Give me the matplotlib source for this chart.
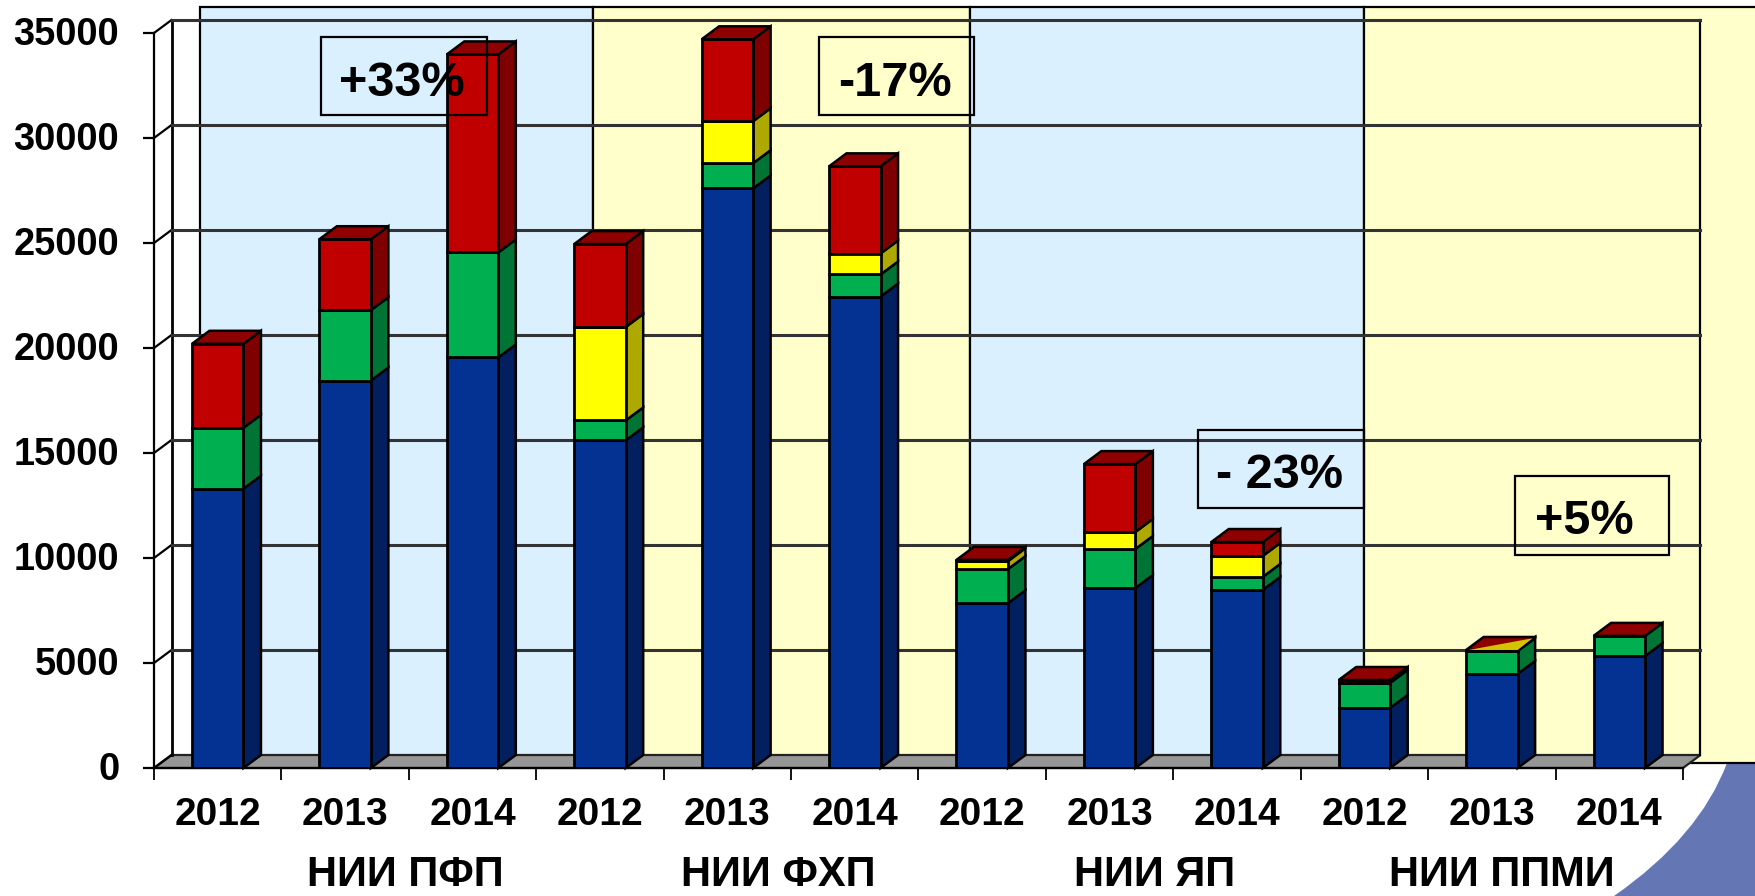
import matplotlib
matplotlib.use("Agg")
import matplotlib.pyplot as plt
from matplotlib.patches import Polygon, Rectangle, PathPatch
from matplotlib.path import Path
from matplotlib.transforms import ScaledTranslation

plt.rcParams['font.family'] = ['Liberation Sans', 'DejaVu Sans']

years = ['2012', '2013', '2014'] * 4
groups = ['НИИ ПФП', 'НИИ ФХП', 'НИИ ЯП', 'НИИ ППМИ']
blue = [13300, 18450, 19550, 15600, 27600, 22450, 7850, 8570, 8480, 2860, 4480, 5330]
green = [2900, 3350, 5000, 950, 1200, 1050, 1620, 1860, 620, 1190, 1090, 960]
yellow = [0, 0, 0, 4450, 2000, 1000, 380, 810, 1000, 0, 30, 0]
red = [4000, 3380, 9430, 3950, 3900, 4150, 60, 3230, 660, 140, 20, 0]
y_ticks = [0, 5000, 10000, 15000, 20000, 25000, 30000, 35000]
notes = ['+33%', '-17%', '- 23%', '+5%']

face = ['#033293', '#00B050', '#FFFF00', '#C00000']
side = ['#02205F', '#007434', '#ADA900', '#7F0000']
top_c = '#8F0000'
BW, BH = 1755, 896
L, R, B, T = 154, 1683, 768, 33
DX = 17.5 / ((R - L) / 12)
DY = 13 / (B - T) * 35000

fig = plt.figure(figsize=(BW / 100, BH / 100), dpi=100, facecolor='white')

bg = fig.add_axes([0, 0, 1, 1], zorder=0)
bg.set_xlim(0, BW); bg.set_ylim(BH, 0); bg.axis('off')
corner = Path([(1727, 763), (1699.5, 836.5), (1614, 896), (1755, 896), (1755, 763), (1727, 763)],
              [Path.MOVETO, Path.CURVE3, Path.CURVE3, Path.LINETO, Path.LINETO, Path.CLOSEPOLY])
bg.add_patch(PathPatch(corner, fc='#6576B4', ec='none'))
panels = [(200, 593, '#DAF0FF'), (593, 970, '#FFFFCC'), (970, 1364, '#DAF0FF'), (1364, 1760, '#FFFFCC')]
for a, b, c in panels:
    bg.add_patch(Rectangle((a, 7), b - a, 756, fc=c, ec='black', lw=1.6))

ax = fig.add_axes([L / BW, 1 - B / BH, (R - L) / BW, (B - T) / BH], zorder=1)
ax.patch.set_alpha(0)
ax.set_xlim(0, 12); ax.set_ylim(0, 35000)
for s in ['top', 'right']:
    ax.spines[s].set_visible(False)
for s in ['left', 'bottom']:
    ax.spines[s].set_linewidth(1.6)

kw = dict(clip_on=False)
# floor
ax.add_patch(Polygon([(0, 0), (DX, DY), (12 + DX, DY), (12, 0)], fc='#969696', ec='#222222', lw=1.6, zorder=1, **kw))
# walls and grid
grid_c = '#333333'
ax.plot([DX, DX], [DY, 35000 + DY], color='black', lw=2.0, zorder=1.2, **kw)
ax.plot([12 + DX, 12 + DX], [DY, 35000 + DY], color='black', lw=1.6, zorder=1.2, **kw)
for v in y_ticks:
    ax.plot([0, DX], [v, v + DY], color='black', lw=1.6, zorder=1.2, **kw)
    if v:
        ax.plot([DX, 12 + DX], [v + DY, v + DY], color=grid_c, lw=2.2, zorder=1.2, **kw)

x = [i + 0.5 for i in range(12)]
w = 51.5 / ((R - L) / 12)
bottoms = [0] * 12
for k, vals in enumerate([blue, green, yellow, red]):
    ax.bar(x, vals, width=w, bottom=bottoms, color=face[k], edgecolor='black', linewidth=2.0, zorder=3)
    for i in range(12):
        if vals[i] <= 0:
            continue
        r = x[i] + w / 2
        y0, y1 = bottoms[i], bottoms[i] + vals[i]
        ax.add_patch(Polygon([(r, y0), (r + DX, y0 + DY), (r + DX, y1 + DY), (r, y1)],
                             fc=side[k], ec='black', lw=1.8, zorder=2.5, **kw))
    bottoms = [b + v for b, v in zip(bottoms, vals)]
for i in range(12):
    l, r, t = x[i] - w / 2, x[i] + w / 2, bottoms[i]
    ax.add_patch(Polygon([(l, t), (l + DX, t + DY), (r + DX, t + DY), (r, t)],
                         fc=top_c, ec='black', lw=1.8, zorder=3.1, **kw))
    if i == 10:
        ax.add_patch(Polygon([(l + 0.02, t), (r + DX - 0.02, t + DY * 0.9), (r, t)],
                             fc='#D4C400', ec='none', zorder=3.2, **kw))

ax.set_yticks(y_ticks)
ax.set_yticklabels([str(v) for v in y_ticks], fontsize=27.4, fontweight='bold')
ax.tick_params(axis='y', length=8, width=1.6, pad=17)
shift_up = ScaledTranslation(0, 1.5 / 72, fig.dpi_scale_trans)
for lab in ax.get_yticklabels():
    lab.set_transform(lab.get_transform() + shift_up)
ax.set_xticks(range(13))
ax.set_xticklabels([])
ax.tick_params(axis='x', which='major', length=8.5, width=1.3)
ax.set_xticks(x, minor=True)
ax.set_xticklabels(years, minor=True, fontsize=28, fontweight='bold')
ax.tick_params(axis='x', which='minor', length=0, pad=21)

ov = fig.add_axes([0, 0, 1, 1], zorder=2)
ov.set_xlim(0, BW); ov.set_ylim(BH, 0); ov.axis('off')
ov.patch.set_alpha(0)
boxes = [(321, 37, 166, 78, 402, 84), (819, 37, 155, 78, 895, 84),
         (1198, 430, 166, 78, 1280, 476), (1515, 476, 154, 79, 1584, 522)]
for (bx, by, bw, bh, tx, ty), n in zip(boxes, notes):
    ov.add_patch(Rectangle((bx, by), bw, bh, fc='none', ec='black', lw=1.6))
    ov.text(tx, ty, n, fontsize=35, fontweight='bold', ha='center', va='center')
for g, gx in zip(groups, [405, 778, 1155, 1502]):
    ov.text(gx, 875, g, fontsize=30, fontweight='bold', ha='center', va='center')

fig.savefig('out.png', dpi=100)
